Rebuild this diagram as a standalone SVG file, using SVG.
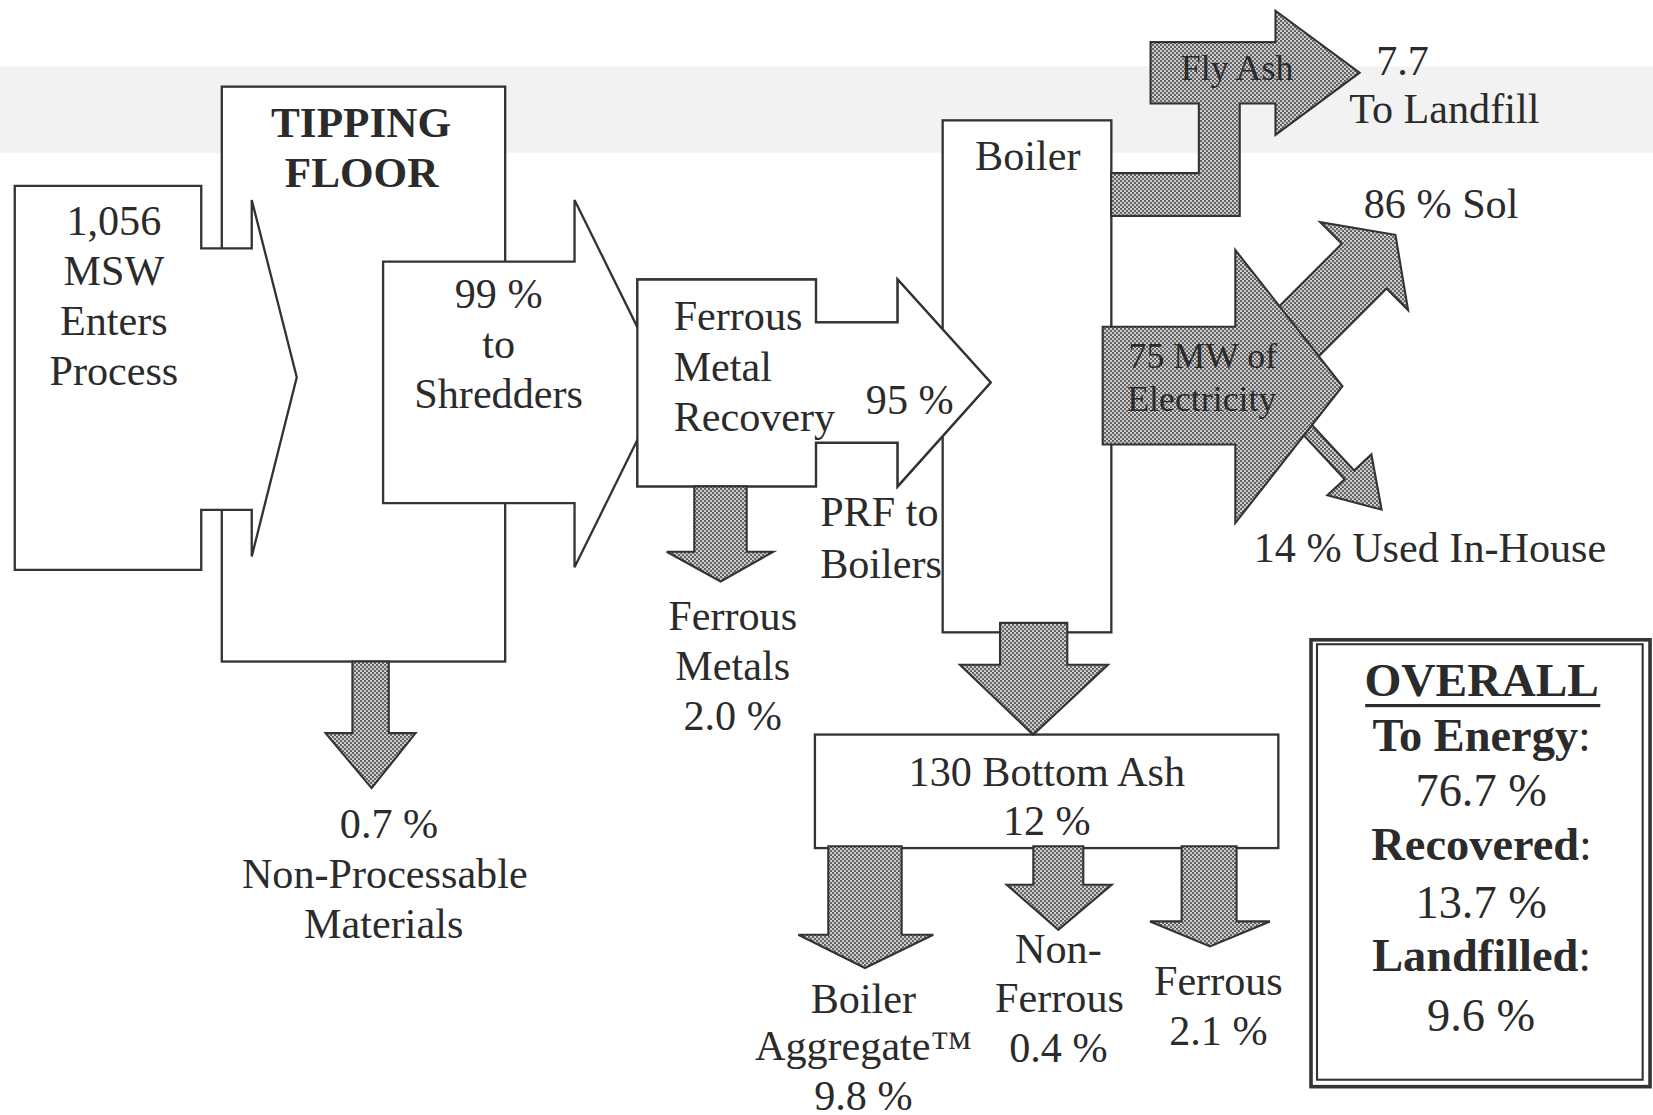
<svg xmlns="http://www.w3.org/2000/svg" width="1653" height="1115" viewBox="0 0 1653 1115">
<defs>
<pattern id="dots" width="4" height="4" patternUnits="userSpaceOnUse" patternTransform="scale(0.94858 0.94887)">
<rect width="4" height="4" fill="#d6d6d6"/>
<rect width="2" height="2" fill="#5a5a5a"/>
<rect x="2" y="2" width="2" height="2" fill="#5a5a5a"/>
</pattern>
<style>
.box{fill:#fff;stroke:#333;stroke-width:2.2;stroke-linejoin:miter}
.open{fill:none;stroke:#333;stroke-width:2.2}
.g{fill:url(#dots);stroke:#333;stroke-width:2;stroke-linejoin:miter}
text{font-family:"Liberation Serif","Times New Roman",serif;fill:#2b2b2b}
.t{font-size:40px;text-anchor:middle}
.l{font-size:40px;text-anchor:start}
.s{font-size:34px;text-anchor:middle}
.b{font-weight:bold}
.o{font-size:44px;text-anchor:middle}
</style>
</defs>
<rect width="1653" height="1115" fill="#ffffff"/>
<g transform="scale(1.0542 1.0539)">
<rect x="0" y="63" width="1568" height="82" fill="#f2f2f2"/>

<g id="tipping-floor">
<rect class="box" x="210.4" y="82.2" width="268.8" height="545.5"/>
<text class="t b" x="342.5" y="129.7" style="font-size:41px">TIPPING</text>
<text class="t b" x="343" y="177" style="font-size:41px">FLOOR</text>
</g>

<g id="msw-enters">
<polygon class="box" points="14,176.4 190.9,176.4 190.9,235.6 238.8,235.6 238.8,189.7 281.5,358 238.8,528 238.8,483.8 190.9,483.8 190.9,540.7 14,540.7"/>
<text class="t" x="108" y="223">1,056</text>
<text class="t" x="108" y="270.4">MSW</text>
<text class="t" x="108" y="317.8">Enters</text>
<text class="t" x="108" y="365.2">Process</text>
</g>

<g id="boiler">
<rect class="box" x="894.2" y="114.2" width="160" height="485.8"/>
<text class="l" x="925" y="161">Boiler</text>
</g>

<g id="ferrous-recovery">
<polygon id="fmrShape" class="box" points="604.6,265.2 774,265.2 774,305.9 851.5,305.9 851.5,265.2 939.7,363 851.5,461.5 851.5,420.1 774,420.1 774,461.5 604.6,461.5"/>
</g>

<g id="shredders">
<polygon class="box" points="363.4,248.2 545,248.2 545,189.7 631,364 545,538.2 545,477.4 363.4,477.4"/>
<text class="t" x="473" y="292.5">99 %</text>
<text class="t" x="473" y="339.5">to</text>
<text class="t" x="473" y="387">Shredders</text>
</g>

<g id="ferrous-recovery-labels">
<use href="#fmrShape" class="open" style="fill:none"/>
<text class="l" x="639" y="313.6">Ferrous</text>
<text class="l" x="639" y="361.5">Metal</text>
<text class="l" x="639" y="408.5">Recovery</text>
<text class="t" x="863" y="393">95 %</text>
<text class="l" x="778" y="499.5">PRF to</text>
<text class="l" x="778" y="548">Boilers</text>
</g>

<g id="bottom-ash">
<rect class="box" x="773" y="697" width="439.6" height="107.7"/>
<text class="t" x="993" y="746">130 Bottom Ash</text>
<text class="t" x="993" y="792">12 %</text>
</g>

<g id="connectors">
<polygon class="g" points="1202.1,302 1272.8,231.3 1252.3,210.8 1323.7,222.8 1335.7,294.2 1315.2,273.7 1244.5,344.4"/>
<polygon class="g" points="1233.5,391.4 1284.5,446.4 1300.9,431.2 1310.6,483.6 1259.1,470 1275.5,454.8 1224.5,399.8"/>
<polygon class="g" points="1046,310 1171.8,310 1171.8,237.2 1273.4,366.5 1171.8,496.3 1171.8,421.8 1046,421.8"/>
<polygon class="g" points="1054,164.3 1137.2,164.3 1137.2,98.2 1091.4,98.2 1091.4,40 1209.9,40 1209.9,10.2 1289.7,69 1209.9,128 1209.9,98.2 1176,98.2 1176,205 1054,205"/>
<polygon class="g" points="948.6,591 1012.4,591 1012.4,630.8 1051,630.8 980,697.2 910.6,630.8 948.6,630.8"/>
<polygon class="g" points="785.7,803 855.3,803 855.3,887 885.3,887 820.5,918.5 757.3,887 785.7,887"/>
<polygon class="g" points="980.2,803 1027.6,803 1027.6,839.5 1054.5,839.5 1003.9,882.2 955,839.5 980.2,839.5"/>
<polygon class="g" points="1120.9,803 1173,803 1173,874.3 1204.7,874.3 1147.8,898 1090.9,874.3 1120.9,874.3"/>
<polygon class="g" points="658.6,461.5 708.3,461.5 708.3,523.5 733.6,523.5 683.6,551.7 632.4,523.5 658.6,523.5"/>
<polygon class="g" points="334.3,627.7 368.8,627.7 368.8,695.6 394.2,695.6 352.5,747.8 308.8,695.6 334.3,695.6"/>
</g>

<g id="fly-ash">
<text class="s" x="1173.5" y="76">Fly Ash</text>
<text class="t" x="1330.5" y="71">7.7</text>
<text class="t" x="1370" y="117">To Landfill</text>
</g>

<g id="electricity">
<text class="s" x="1141" y="349">75 MW of</text>
<text class="s" x="1140" y="389.6">Electricity</text>
<text class="t" x="1367" y="207.3">86 % Sol</text>
<text class="t" x="1356.5" y="532.8">14 % Used In-House</text>
</g>

<g id="ferrous-metals">
<text class="t" x="695" y="597.6">Ferrous</text>
<text class="t" x="695" y="645">Metals</text>
<text class="t" x="695" y="692.5">2.0 %</text>
</g>

<g id="non-processable">
<text class="t" x="369" y="795">0.7 %</text>
<text class="t" x="365" y="842.6">Non-Processable</text>
<text class="t" x="364" y="890">Materials</text>
</g>

<g id="boiler-aggregate">
<text class="t" x="819" y="961">Boiler</text>
<text class="t" x="819" y="1005.5">Aggregate™</text>
<text class="t" x="819" y="1053">9.8 %</text>
</g>

<g id="non-ferrous">
<text class="t" x="1004" y="913.8">Non-</text>
<text class="t" x="1005" y="960">Ferrous</text>
<text class="t" x="1004" y="1007.5">0.4 %</text>
</g>

<g id="ferrous-ash">
<text class="t" x="1155.7" y="943.8">Ferrous</text>
<text class="t" x="1155.7" y="992">2.1 %</text>
</g>

<g id="overall">
<rect x="1243.6" y="607.1" width="321.6" height="424" fill="#fff" stroke="#333" stroke-width="3.4"/>
<rect x="1249.3" y="611.3" width="308.9" height="413.2" fill="none" stroke="#333" stroke-width="2"/>
<text class="o b" x="1405.5" y="660.8" style="font-size:45px">OVERALL</text>
<rect x="1295" y="668" width="223" height="3" fill="#2b2b2b"/>
<text class="o" x="1405.5" y="713"><tspan class="b">To Energy</tspan>:</text>
<text class="o" x="1405" y="765.2">76.7 %</text>
<text class="o" x="1405.5" y="815.8"><tspan class="b">Recovered</tspan>:</text>
<text class="o" x="1405" y="871.1">13.7 %</text>
<text class="o" x="1405.5" y="921.7"><tspan class="b">Landfilled</tspan>:</text>
<text class="o" x="1405" y="978.6">9.6 %</text>
</g>
</g>
</svg>
